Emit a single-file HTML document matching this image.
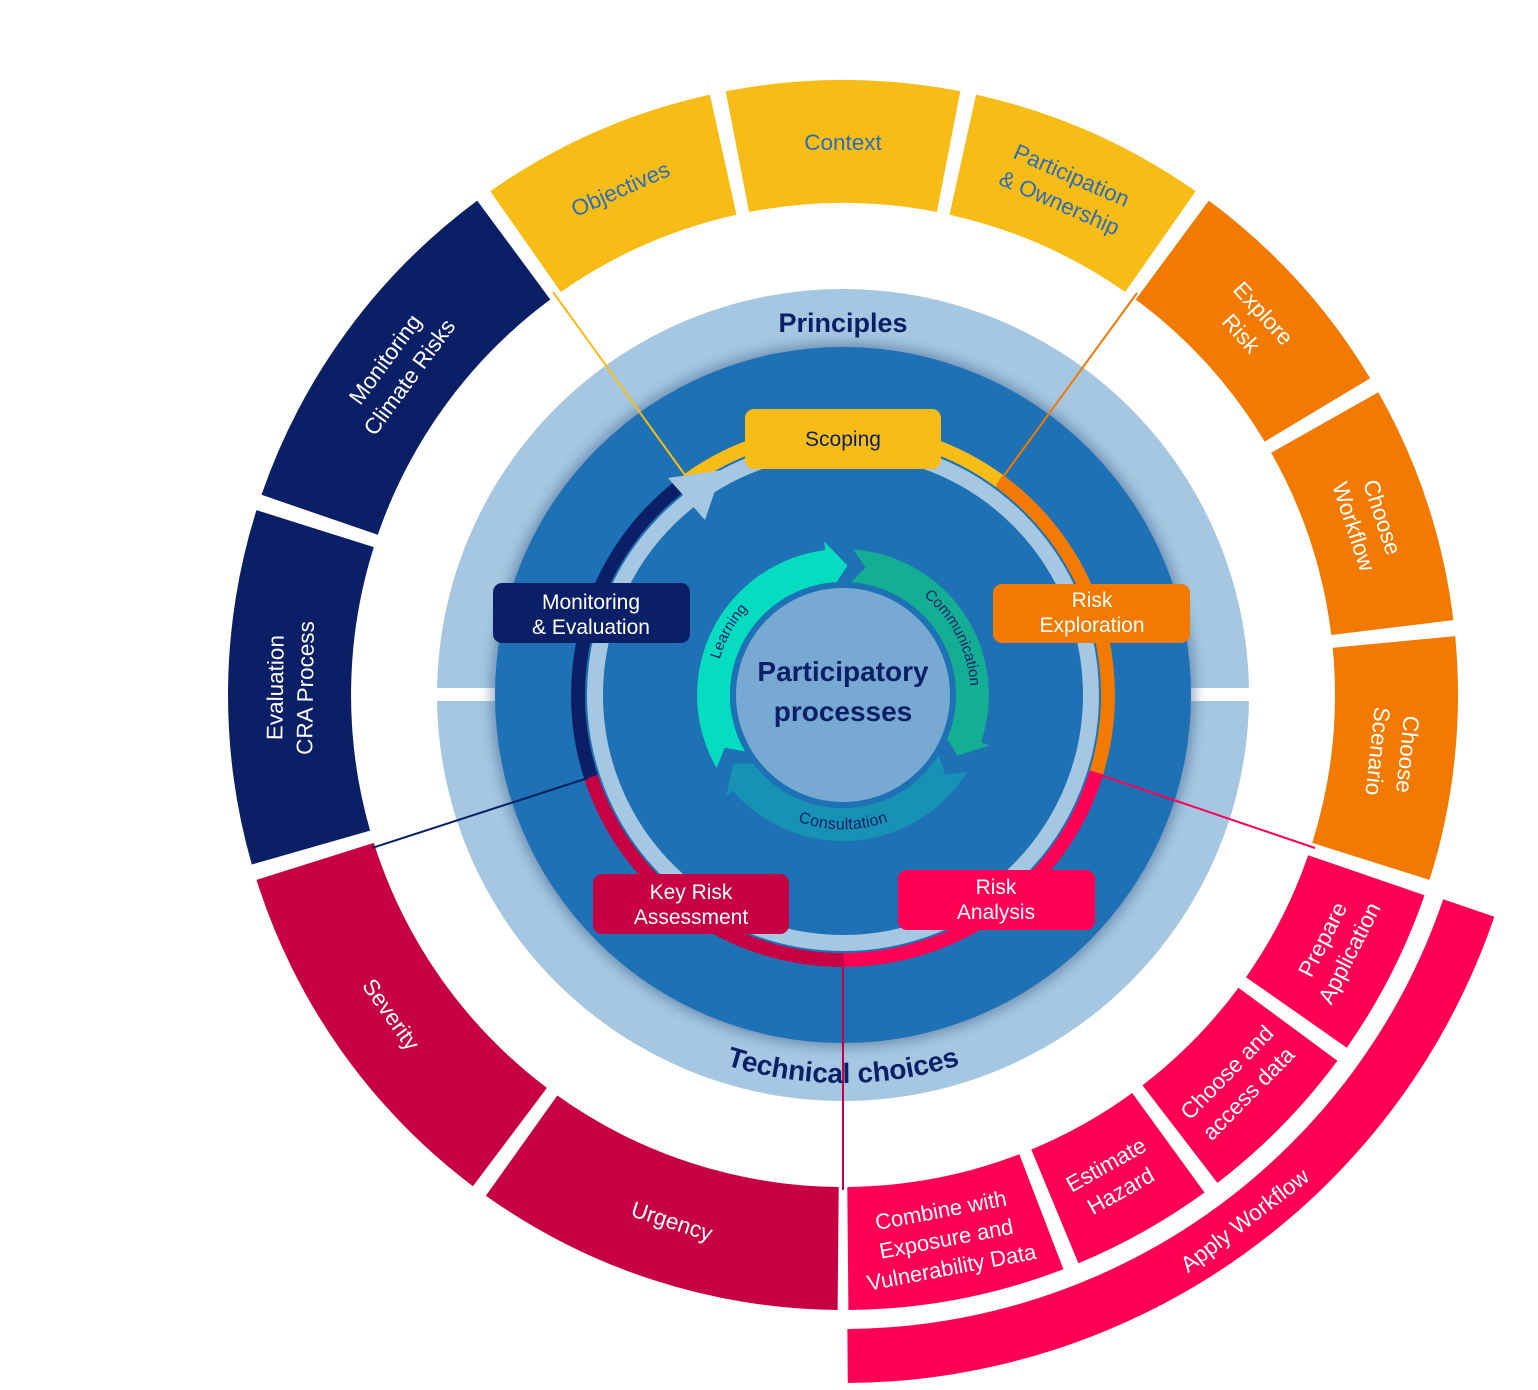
<!DOCTYPE html>
<html><head><meta charset="utf-8"><style>
html,body{margin:0;padding:0;background:#fff;}
svg{display:block;font-family:"Liberation Sans",sans-serif;}
</style></head><body>
<svg id="s" width="1538" height="1390" viewBox="0 0 1538 1390" xmlns="http://www.w3.org/2000/svg">
<defs>
<filter id="sh" x="-20%" y="-20%" width="140%" height="140%"><feGaussianBlur stdDeviation="6"/></filter>
<path id="tc" d="M 453 695 A 390 390 0 0 0 1233 695"/>
<path id="lp" d="M 717 720 A 128 128 0 0 1 798 575"/>
<path id="cp" d="M 895 578 A 128 128 0 0 1 968 720"/>
<path id="sp" d="M 738 771 A 130 130 0 0 0 948 771"/>
</defs>
<g id="shapes"></g>
<circle cx="843" cy="695" r="406" fill="#A5C7E1"/>
<rect x="430" y="688" width="70" height="13" fill="#fff"/>
<rect x="1188" y="688" width="70" height="13" fill="#fff"/>
<circle cx="843" cy="695" r="352" fill="#2a4a7a" opacity="0.45" filter="url(#sh)"/>
<circle cx="843" cy="695" r="348" fill="#1D71B4"/>
<g id="inner"></g>
<circle cx="843" cy="695" r="248" fill="none" stroke="#A5C7E1" stroke-width="16"/>
<polygon points="722,470 668,478 705,520" fill="#A5C7E1"/>
<line x1="553" y1="292" x2="685" y2="475" stroke="#F7BC16" stroke-width="2"/>
<line x1="1137" y1="293" x2="997" y2="485" stroke="#F27A00" stroke-width="2"/>
<line x1="372" y1="848" x2="588" y2="778" stroke="#0B1F66" stroke-width="2"/>
<line x1="1100" y1="775" x2="1315" y2="848" stroke="#FF0055" stroke-width="2"/>
<line x1="843" y1="955" x2="843" y2="1190" stroke="#C70044" stroke-width="2"/>
<g id="arrows"></g>
<circle cx="843" cy="695" r="110" fill="#78A9D3" stroke="#1D71B4" stroke-width="6"/>
<text x="843" y="681" text-anchor="middle" font-size="28" font-weight="bold" fill="#0B1F66">Participatory</text>
<text x="843" y="721" text-anchor="middle" font-size="28" font-weight="bold" fill="#0B1F66">processes</text>
<text font-size="15" fill="#0B1F66"><textPath href="#lp" startOffset="50%" text-anchor="middle">Learning</textPath></text>
<text font-size="15" fill="#0B1F66"><textPath href="#cp" startOffset="50%" text-anchor="middle">Communication</textPath></text>
<text font-size="16" fill="#0B1F66" dy="5"><textPath href="#sp" startOffset="50%" text-anchor="middle">Consultation</textPath></text>
<text x="843" y="332" text-anchor="middle" font-size="27" font-weight="bold" fill="#0B1F66">Principles</text>
<text font-size="28" font-weight="bold" fill="#0B1F66" dy="-2"><textPath href="#tc" startOffset="50%" text-anchor="middle">Technical   choices</textPath></text>
<g font-size="21" text-anchor="middle">
<rect x="745" y="409" width="196" height="60" rx="9" fill="#F7BC16"/>
<text x="843" y="446" fill="#0B1F66">Scoping</text>
<rect x="493" y="583" width="197" height="60" rx="9" fill="#0B1F66"/>
<text x="591" y="609" fill="#fff">Monitoring</text><text x="591" y="634" fill="#fff">&amp; Evaluation</text>
<rect x="993" y="584" width="197" height="59" rx="9" fill="#F27A00"/>
<text x="1092" y="607" fill="#fff">Risk</text><text x="1092" y="632" fill="#fff">Exploration</text>
<rect x="593" y="874" width="196" height="60" rx="9" fill="#C70044"/>
<text x="691" y="899" fill="#fff">Key Risk</text><text x="691" y="924" fill="#fff">Assessment</text>
<rect x="898" y="870" width="197" height="60" rx="9" fill="#FF0055"/>
<text x="996" y="894" fill="#fff">Risk</text><text x="996" y="919" fill="#fff">Analysis</text>
</g>
<g id="labels" font-size="22.5" text-anchor="middle" fill="#fff">
<text fill="#2A6EBB"><tspan>Objectives</tspan></text>
<text fill="#2A6EBB"><tspan>Context</tspan></text>
<text fill="#2A6EBB"><tspan>Participation</tspan><tspan>&amp; Ownership</tspan></text>
<text><tspan>Explore</tspan><tspan>Risk</tspan></text>
<text><tspan>Choose</tspan><tspan>Workflow</tspan></text>
<text><tspan>Choose</tspan><tspan>Scenario</tspan></text>
<text><tspan>Prepare</tspan><tspan>Application</tspan></text>
<text><tspan>Choose and</tspan><tspan>access data</tspan></text>
<text><tspan>Estimate</tspan><tspan>Hazard</tspan></text>
<text font-size="22"><tspan>Combine with</tspan><tspan>Exposure and</tspan><tspan>Vulnerability Data</tspan></text>
<text><tspan>Urgency</tspan></text>
<text><tspan>Severity</tspan></text>
<text><tspan>Evaluation</tspan><tspan>CRA Process</tspan></text>
<text><tspan>Monitoring</tspan><tspan>Climate Risks</tspan></text>
<text><tspan>Apply Workflow</tspan></text>
</g>
</svg>
<script>
var cx=843,cy=695,NS="http://www.w3.org/2000/svg";
function P(r,a){a=a*Math.PI/180;return [(cx+r*Math.cos(a)).toFixed(1),(cy+r*Math.sin(a)).toFixed(1)];}
function sector(r1,r2,a1,a2){var l=(a2-a1)>180?1:0;return "M"+P(r2,a1)+" A"+r2+" "+r2+" 0 "+l+" 1 "+P(r2,a2)+" L"+P(r1,a2)+" A"+r1+" "+r1+" 0 "+l+" 0 "+P(r1,a1)+"Z";}
function add(g,d,f){var p=document.createElementNS(NS,"path");p.setAttribute("d",d);p.setAttribute("fill",f);document.getElementById(g).appendChild(p);}
var Y="#F7BC16",O="#F27A00",N="#0B1F66",C="#C70044",K="#FF0055";
var segs=[[-125,-102.5,Y,0],[-101,-79,Y,0],[-77.5,-55,Y,0],[-53.5,-31,O,0],[-29.5,-7,O,0],[-5.5,17.5,O,0],
[19,35,K,1],[36.5,52.5,K,1],[54,67.5,K,1],[69,89.5,K,1],[90.5,125.5,C,1],[127,162.5,C,1],[164,197.5,N,0],[199,233.5,N,0]];
segs.forEach(function(s){add("shapes",sector(492,615,s[0],s[1]),s[2]);});
add("shapes",sector(634,688,18.8,89.6),K);
segs.push([18.8,89.6,K,1,661,52.6]);
var labels=document.getElementById("labels").children;
segs.forEach(function(s,i){
  var t=labels[i];var m=s[5]!==undefined?s[5]:(s[0]+s[1])/2;var r=s[4]||553;
  var p=P(r,m);var rot=s[3]?m-90:m+90;
  t.setAttribute("transform","translate("+p[0]+","+p[1]+") rotate("+rot.toFixed(1)+")");
  var ts=t.children,n=ts.length,lh=(n>2?29:30);
  for(var k=0;k<n;k++){ts[k].setAttribute("x",0);ts[k].setAttribute("y",(k-(n-1)/2)*lh+8);}
});
function arc(r,a1,a2,col,w){var l=(a2-a1)>180?1:0;var p=document.createElementNS(NS,"path");
p.setAttribute("d","M"+P(r,a1)+" A"+r+" "+r+" 0 "+l+" 1 "+P(r,a2));p.setAttribute("fill","none");p.setAttribute("stroke",col);p.setAttribute("stroke-width",w);document.getElementById("inner").appendChild(p);}
arc(265,-126,-53.7,Y,14);arc(265,-53.7,17,O,14);arc(265,17,90,K,14);arc(265,90,162,C,14);arc(265,162,234,N,14);
function arrow(a1,a2,col){var r1=113,r2=146,rm=129.5,tip=9,notch=6;
 var d="M"+P(r2,a1)+" A"+r2+" "+r2+" 0 0 1 "+P(r2,a2-tip)+" L"+P(r2+9,a2-tip)+" L"+P(rm,a2)+" L"+P(r1-9,a2-tip)+" L"+P(r1,a2-tip)+
 " A"+r1+" "+r1+" 0 0 0 "+P(r1,a1)+" L"+P(rm,a1+notch)+"Z";add("arrows",d,col);}
arrow(150,272,"#05DCC0");arrow(-86,28,"#13AE94");arrow(32,148,"#1792B5");
</script>
</body></html>
